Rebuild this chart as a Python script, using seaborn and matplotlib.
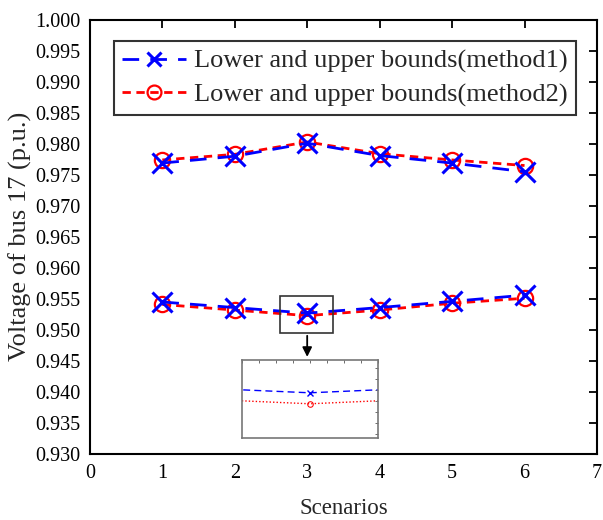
import matplotlib
matplotlib.use("Agg")
import matplotlib.pyplot as plt
import seaborn as sns
import pandas as pd

sns.set_theme(style="white")
plt.rcParams['font.family'] = ['Liberation Serif', 'DejaVu Serif']

# data
scenarios = [1, 2, 3, 4, 5, 6]
m1_upper = [0.9769, 0.9780, 0.9801, 0.9781, 0.9769, 0.9755]
m2_upper = [0.9774, 0.9783, 0.9803, 0.9784, 0.9774, 0.9765]
m1_lower = [0.9545, 0.9536, 0.9527, 0.9536, 0.9546, 0.9556]
m2_lower = [0.9541, 0.9532, 0.9523, 0.9532, 0.9543, 0.9551]
labels = ["Lower and upper bounds(method1)", "Lower and upper bounds(method2)"]

df = pd.DataFrame({"Scenario": scenarios,
                   "m1_upper": m1_upper, "m2_upper": m2_upper,
                   "m1_lower": m1_lower, "m2_lower": m2_lower})

fig = plt.figure(figsize=(6.03, 5.2), dpi=100)
ax = fig.add_axes([0.149, 0.127, 0.841, 0.835])

red_kw = dict(color="red", marker="o", markersize=11, markerfacecolor="none",
              markeredgecolor="red", markeredgewidth=1.6, linewidth=2,
              dashes=(3, 2), zorder=3)
blue_kw = dict(color="blue", marker="x", markersize=14, markeredgewidth=2.2,
               markeredgecolor="blue", linewidth=2, dashes=(6, 4), zorder=4)

sns.lineplot(data=df, x="Scenario", y="m2_upper", ax=ax, label=labels[1], **red_kw)
sns.lineplot(data=df, x="Scenario", y="m2_lower", ax=ax, **red_kw)
sns.lineplot(data=df, x="Scenario", y="m1_upper", ax=ax, label=labels[0], **blue_kw)
sns.lineplot(data=df, x="Scenario", y="m1_lower", ax=ax, **blue_kw)

ax.set_xlim(0, 7)
ax.set_ylim(0.930, 1.000)
ax.set_xticks(range(0, 8))
ax.set_yticks([0.930 + 0.005 * i for i in range(15)])
ax.set_yticklabels([f"{0.930 + 0.005 * i:.3f}" for i in range(15)])
ax.tick_params(direction="in", length=6, width=1.3, top=True, right=True,
               labelsize=14.5, colors="black", pad=7)
for s in ax.spines.values():
    s.set_linewidth(1.5)
    s.set_color("black")
ax.set_xlabel("Scenarios", fontsize=16.5, labelpad=11)
ax.set_ylabel("Voltage of bus 17 (p.u.)", fontsize=19, labelpad=2)

h, l = ax.get_legend_handles_labels()
order = [l.index(labels[0]), l.index(labels[1])]
leg = ax.legend([h[i] for i in order], [l[i] for i in order], loc="upper left",
                bbox_to_anchor=(0.047, 0.95), fontsize=19, frameon=True,
                fancybox=False, edgecolor="black", handlelength=2.45,
                handletextpad=0.3, borderpad=0.3, labelspacing=0.36,
                borderaxespad=0)
leg.get_frame().set_linewidth(1.5)
for lh in leg.get_lines():
    lh.set_markersize(10)

# zoom box and arrow
ax.add_patch(plt.Rectangle((2.62, 0.9495), 0.73, 0.0059, fill=False,
                           edgecolor="#333333", linewidth=1.2, zorder=5))
ax.annotate("", xy=(3, 0.9452), xytext=(3, 0.9495),
            arrowprops=dict(arrowstyle="-|>", color="black", lw=1.3,
                            mutation_scale=14), zorder=5)

# inset
ins = fig.add_axes([0.401, 0.158, 0.2255, 0.15])
sns.lineplot(data=df, x="Scenario", y="m1_lower", ax=ins, color="blue",
             marker="x", markersize=4, markeredgewidth=1, markeredgecolor="blue",
             linewidth=1, dashes=(5, 3))
sns.lineplot(data=df, x="Scenario", y="m2_lower", ax=ins, color="red",
             marker="o", markersize=4, markerfacecolor="none",
             markeredgecolor="red", linewidth=1, dashes=(1, 1.5))
ins.set_xlim(2.88, 3.12)
ins.set_ylim(0.95106, 0.9539)
ins.set_xticks([2.88 + 0.03 * i for i in range(9)])
ins.set_yticks([0.9512 + 0.0004 * i for i in range(7)])
ins.tick_params(direction="in", length=2, width=0.6, top=True, right=True,
                labelbottom=False, labelleft=False, colors="#555555")
ins.set_xlabel("")
ins.set_ylabel("")
for s in ins.spines.values():
    s.set_linewidth(1.2)
    s.set_color("#777777")

fig.savefig("out.png", dpi=100)
